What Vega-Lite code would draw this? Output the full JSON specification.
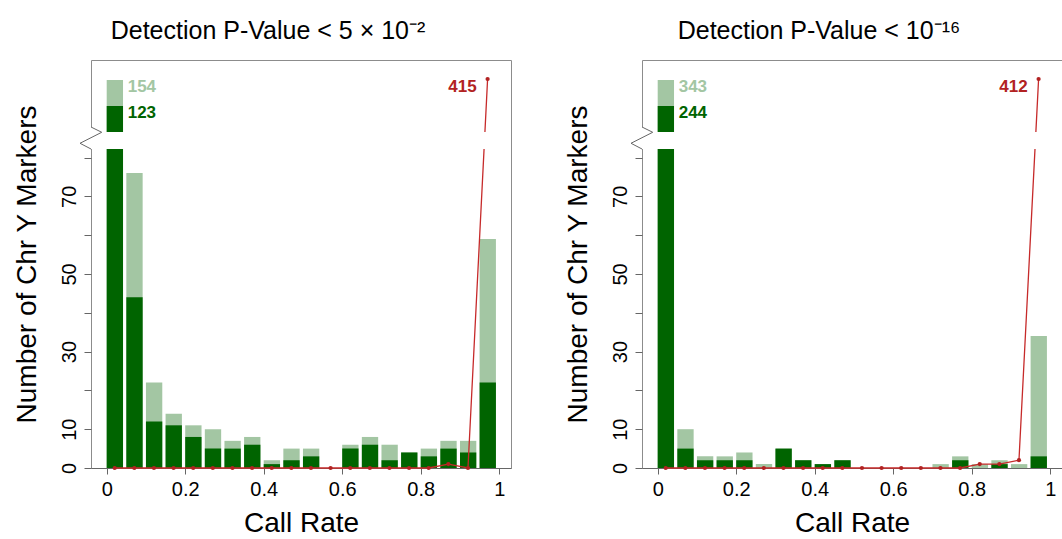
{
  "$schema": "https://vega.github.io/schema/vega-lite/v6.json",
  "background": "white",
  "padding": {"left": 12, "top": 18, "right": 0, "bottom": 0},
  "spacing": 51,
  "config": {
    "font": "Liberation Sans",
    "view": {"stroke": "#8c8c8c", "strokeWidth": 1},
    "axis": {"domainColor": "#666666", "tickColor": "#666666", "labelColor": "#000000", "titleColor": "#000000", "labelFont": "Liberation Sans", "titleFont": "Liberation Sans", "titleFontWeight": "normal", "labelFontSize": 20, "titleFontSize": 28, "grid": false},
    "title": {"font": "Liberation Sans", "fontSize": 25, "fontWeight": "normal", "color": "#000000"}
  },
  "datasets": {
    "p2": [
      {"lo": 0.00, "hi": 0.05, "light": 154, "dark": 123, "red": 0},
      {"lo": 0.05, "hi": 0.10, "light": 76, "dark": 44, "red": 0},
      {"lo": 0.10, "hi": 0.15, "light": 22, "dark": 12, "red": 0},
      {"lo": 0.15, "hi": 0.20, "light": 14, "dark": 11, "red": 0},
      {"lo": 0.20, "hi": 0.25, "light": 11, "dark": 8, "red": 0},
      {"lo": 0.25, "hi": 0.30, "light": 10, "dark": 5, "red": 0},
      {"lo": 0.30, "hi": 0.35, "light": 7, "dark": 5, "red": 0},
      {"lo": 0.35, "hi": 0.40, "light": 8, "dark": 6, "red": 0},
      {"lo": 0.40, "hi": 0.45, "light": 2, "dark": 1, "red": 0},
      {"lo": 0.45, "hi": 0.50, "light": 5, "dark": 2, "red": 0},
      {"lo": 0.50, "hi": 0.55, "light": 5, "dark": 3, "red": 0},
      {"lo": 0.55, "hi": 0.60, "light": 0, "dark": 0, "red": 0},
      {"lo": 0.60, "hi": 0.65, "light": 6, "dark": 5, "red": 0},
      {"lo": 0.65, "hi": 0.70, "light": 8, "dark": 6, "red": 0},
      {"lo": 0.70, "hi": 0.75, "light": 6, "dark": 2, "red": 0},
      {"lo": 0.75, "hi": 0.80, "light": 4, "dark": 4, "red": 0},
      {"lo": 0.80, "hi": 0.85, "light": 5, "dark": 3, "red": 0},
      {"lo": 0.85, "hi": 0.90, "light": 7, "dark": 5, "red": 1},
      {"lo": 0.90, "hi": 0.95, "light": 7, "dark": 4, "red": 0},
      {"lo": 0.95, "hi": 1.00, "light": 59, "dark": 22, "red": 415}
    ],
    "p16": [
      {"lo": 0.00, "hi": 0.05, "light": 343, "dark": 244, "red": 0},
      {"lo": 0.05, "hi": 0.10, "light": 10, "dark": 5, "red": 0},
      {"lo": 0.10, "hi": 0.15, "light": 3, "dark": 2, "red": 0},
      {"lo": 0.15, "hi": 0.20, "light": 3, "dark": 2, "red": 0},
      {"lo": 0.20, "hi": 0.25, "light": 4, "dark": 2, "red": 0},
      {"lo": 0.25, "hi": 0.30, "light": 1, "dark": 0, "red": 0},
      {"lo": 0.30, "hi": 0.35, "light": 5, "dark": 5, "red": 0},
      {"lo": 0.35, "hi": 0.40, "light": 2, "dark": 2, "red": 0},
      {"lo": 0.40, "hi": 0.45, "light": 1, "dark": 1, "red": 0},
      {"lo": 0.45, "hi": 0.50, "light": 2, "dark": 2, "red": 0},
      {"lo": 0.50, "hi": 0.55, "light": 0, "dark": 0, "red": 0},
      {"lo": 0.55, "hi": 0.60, "light": 0, "dark": 0, "red": 0},
      {"lo": 0.60, "hi": 0.65, "light": 0, "dark": 0, "red": 0},
      {"lo": 0.65, "hi": 0.70, "light": 0, "dark": 0, "red": 0},
      {"lo": 0.70, "hi": 0.75, "light": 1, "dark": 0, "red": 0},
      {"lo": 0.75, "hi": 0.80, "light": 3, "dark": 2, "red": 0},
      {"lo": 0.80, "hi": 0.85, "light": 1, "dark": 0, "red": 1},
      {"lo": 0.85, "hi": 0.90, "light": 2, "dark": 1, "red": 1},
      {"lo": 0.90, "hi": 0.95, "light": 1, "dark": 0, "red": 2},
      {"lo": 0.95, "hi": 1.00, "light": 34, "dark": 3, "red": 412}
    ],
    "band": [
      {"x0": -0.05, "x1": 1.02, "y0": 82.2, "y1": 100},
      {"x0": -0.05, "x1": -0.036, "y0": 100, "y1": 105}
    ],
    "zig": [
      {"k": 0, "x": -0.04, "y": 105},
      {"k": 1, "x": -0.0127, "y": 99.7},
      {"k": 2, "x": -0.068, "y": 88.2},
      {"k": 3, "x": -0.04, "y": 82.2}
    ]
  },
  "hconcat": [
    {
      "title": {"text": "Detection P-Value < 5 × 10⁻²", "dx": -33, "offset": 16},
      "width": 420,
      "height": 408,
      "layer": [
        {
          "data": {"name": "p2"},
          "mark": {"type": "bar", "color": "#a3c6a3", "x2Offset": -3.3},
          "encoding": {
            "x": {"field": "lo", "type": "quantitative", "title": "Call Rate",
              "scale": {"domain": [-0.04, 1.03], "nice": false, "zero": false},
              "axis": {"values": [0, 0.2, 0.4, 0.6, 0.8, 1], "labelExpr": "'' + datum.value", "tickSize": 6, "labelPadding": 5, "titlePadding": 10, "labelFlush": false}},
            "x2": {"field": "hi"},
            "y": {"field": "light", "type": "quantitative", "title": "Number of Chr Y Markers",
              "scale": {"domain": [0, 82.2, 100, 105, 123, 154, 415, 430], "range": [408, 89, 72, 67, 46, 20, 19, 0], "nice": false, "zero": false},
              "axis": {"values": [0, 10, 20, 30, 40, 50, 60, 70, 80], "labelExpr": "indexof([0, 10, 30, 50, 70], datum.value) >= 0 ? '' + datum.value : ''", "labelAngle": 270, "labelAlign": "center", "labelBaseline": "bottom", "tickSize": 7, "labelPadding": 5, "titlePadding": 18, "domain": false, "labelOverlap": false, "labelFlush": false}},
            "y2": {"datum": 0}
          }
        },
        {
          "data": {"name": "p2"},
          "mark": {"type": "bar", "color": "#006400", "x2Offset": -3.3},
          "encoding": {
            "x": {"field": "lo", "type": "quantitative", "title": "Call Rate"},
            "x2": {"field": "hi"},
            "y": {"field": "dark", "type": "quantitative", "title": "Number of Chr Y Markers"},
            "y2": {"datum": 0}
          }
        },
        {
          "data": {"name": "p2"},
          "mark": {"type": "line", "color": "#c62a2a", "strokeWidth": 1.3, "xOffset": 8},
          "encoding": {
            "x": {"field": "lo", "type": "quantitative", "title": "Call Rate"},
            "y": {"field": "red", "type": "quantitative", "title": "Number of Chr Y Markers"}
          }
        },
        {
          "data": {"name": "p2"},
          "mark": {"type": "circle", "color": "#b22222", "size": 18, "opacity": 1, "xOffset": 8},
          "encoding": {
            "x": {"field": "lo", "type": "quantitative", "title": "Call Rate"},
            "y": {"field": "red", "type": "quantitative", "title": "Number of Chr Y Markers"}
          }
        },
        {
          "data": {"name": "band"},
          "mark": {"type": "rect", "color": "white"},
          "encoding": {
            "x": {"field": "x0", "type": "quantitative", "title": "Call Rate"},
            "x2": {"field": "x1"},
            "y": {"field": "y0", "type": "quantitative", "title": "Number of Chr Y Markers"},
            "y2": {"field": "y1"}
          }
        },
        {
          "data": {"name": "zig"},
          "mark": {"type": "line", "color": "#666666", "strokeWidth": 1},
          "encoding": {
            "x": {"field": "x", "type": "quantitative", "title": "Call Rate"},
            "y": {"field": "y", "type": "quantitative", "title": "Number of Chr Y Markers"},
            "order": {"field": "k"}
          }
        },
        {
          "data": {"name": "p2"},
          "transform": [{"filter": "datum.lo == 0"}],
          "mark": {"type": "text", "align": "left", "baseline": "top", "dx": 21, "dy": -1, "fontSize": 17, "fontWeight": "bold", "color": "#a3c6a3"},
          "encoding": {
            "x": {"field": "lo", "type": "quantitative", "title": "Call Rate"},
            "y": {"field": "light", "type": "quantitative", "title": "Number of Chr Y Markers"},
            "text": {"field": "light"}
          }
        },
        {
          "data": {"name": "p2"},
          "transform": [{"filter": "datum.lo == 0"}],
          "mark": {"type": "text", "align": "left", "baseline": "top", "dx": 21, "dy": -1, "fontSize": 17, "fontWeight": "bold", "color": "#006400"},
          "encoding": {
            "x": {"field": "lo", "type": "quantitative", "title": "Call Rate"},
            "y": {"field": "dark", "type": "quantitative", "title": "Number of Chr Y Markers"},
            "text": {"field": "dark"}
          }
        },
        {
          "data": {"name": "p2"},
          "transform": [{"filter": "datum.lo == 0.95"}],
          "mark": {"type": "text", "align": "right", "baseline": "top", "dx": -3, "dy": 0, "fontSize": 17, "fontWeight": "bold", "color": "#b22222"},
          "encoding": {
            "x": {"field": "lo", "type": "quantitative", "title": "Call Rate"},
            "y": {"field": "red", "type": "quantitative", "title": "Number of Chr Y Markers"},
            "text": {"field": "red"}
          }
        }
      ]
    },
    {
      "title": {"text": "Detection P-Value < 10⁻¹⁶", "dx": -33, "offset": 16},
      "width": 420,
      "height": 408,
      "layer": [
        {
          "data": {"name": "p16"},
          "mark": {"type": "bar", "color": "#a3c6a3", "x2Offset": -3.3},
          "encoding": {
            "x": {"field": "lo", "type": "quantitative", "title": "Call Rate",
              "scale": {"domain": [-0.04, 1.03], "nice": false, "zero": false},
              "axis": {"values": [0, 0.2, 0.4, 0.6, 0.8, 1], "labelExpr": "'' + datum.value", "tickSize": 6, "labelPadding": 5, "titlePadding": 10, "labelFlush": false}},
            "x2": {"field": "hi"},
            "y": {"field": "light", "type": "quantitative", "title": "Number of Chr Y Markers",
              "scale": {"domain": [0, 82.2, 100, 105, 244, 343, 412, 430], "range": [408, 89, 72, 67, 46, 20, 19, 0], "nice": false, "zero": false},
              "axis": {"values": [0, 10, 20, 30, 40, 50, 60, 70, 80], "labelExpr": "indexof([0, 10, 30, 50, 70], datum.value) >= 0 ? '' + datum.value : ''", "labelAngle": 270, "labelAlign": "center", "labelBaseline": "bottom", "tickSize": 7, "labelPadding": 5, "titlePadding": 18, "domain": false, "labelOverlap": false, "labelFlush": false}},
            "y2": {"datum": 0}
          }
        },
        {
          "data": {"name": "p16"},
          "mark": {"type": "bar", "color": "#006400", "x2Offset": -3.3},
          "encoding": {
            "x": {"field": "lo", "type": "quantitative", "title": "Call Rate"},
            "x2": {"field": "hi"},
            "y": {"field": "dark", "type": "quantitative", "title": "Number of Chr Y Markers"},
            "y2": {"datum": 0}
          }
        },
        {
          "data": {"name": "p16"},
          "mark": {"type": "line", "color": "#c62a2a", "strokeWidth": 1.3, "xOffset": 8},
          "encoding": {
            "x": {"field": "lo", "type": "quantitative", "title": "Call Rate"},
            "y": {"field": "red", "type": "quantitative", "title": "Number of Chr Y Markers"}
          }
        },
        {
          "data": {"name": "p16"},
          "mark": {"type": "circle", "color": "#b22222", "size": 18, "opacity": 1, "xOffset": 8},
          "encoding": {
            "x": {"field": "lo", "type": "quantitative", "title": "Call Rate"},
            "y": {"field": "red", "type": "quantitative", "title": "Number of Chr Y Markers"}
          }
        },
        {
          "data": {"name": "band"},
          "mark": {"type": "rect", "color": "white"},
          "encoding": {
            "x": {"field": "x0", "type": "quantitative", "title": "Call Rate"},
            "x2": {"field": "x1"},
            "y": {"field": "y0", "type": "quantitative", "title": "Number of Chr Y Markers"},
            "y2": {"field": "y1"}
          }
        },
        {
          "data": {"name": "zig"},
          "mark": {"type": "line", "color": "#666666", "strokeWidth": 1},
          "encoding": {
            "x": {"field": "x", "type": "quantitative", "title": "Call Rate"},
            "y": {"field": "y", "type": "quantitative", "title": "Number of Chr Y Markers"},
            "order": {"field": "k"}
          }
        },
        {
          "data": {"name": "p16"},
          "transform": [{"filter": "datum.lo == 0"}],
          "mark": {"type": "text", "align": "left", "baseline": "top", "dx": 21, "dy": -1, "fontSize": 17, "fontWeight": "bold", "color": "#a3c6a3"},
          "encoding": {
            "x": {"field": "lo", "type": "quantitative", "title": "Call Rate"},
            "y": {"field": "light", "type": "quantitative", "title": "Number of Chr Y Markers"},
            "text": {"field": "light"}
          }
        },
        {
          "data": {"name": "p16"},
          "transform": [{"filter": "datum.lo == 0"}],
          "mark": {"type": "text", "align": "left", "baseline": "top", "dx": 21, "dy": -1, "fontSize": 17, "fontWeight": "bold", "color": "#006400"},
          "encoding": {
            "x": {"field": "lo", "type": "quantitative", "title": "Call Rate"},
            "y": {"field": "dark", "type": "quantitative", "title": "Number of Chr Y Markers"},
            "text": {"field": "dark"}
          }
        },
        {
          "data": {"name": "p16"},
          "transform": [{"filter": "datum.lo == 0.95"}],
          "mark": {"type": "text", "align": "right", "baseline": "top", "dx": -3, "dy": 0, "fontSize": 17, "fontWeight": "bold", "color": "#b22222"},
          "encoding": {
            "x": {"field": "lo", "type": "quantitative", "title": "Call Rate"},
            "y": {"field": "red", "type": "quantitative", "title": "Number of Chr Y Markers"},
            "text": {"field": "red"}
          }
        }
      ]
    }
  ]
}
